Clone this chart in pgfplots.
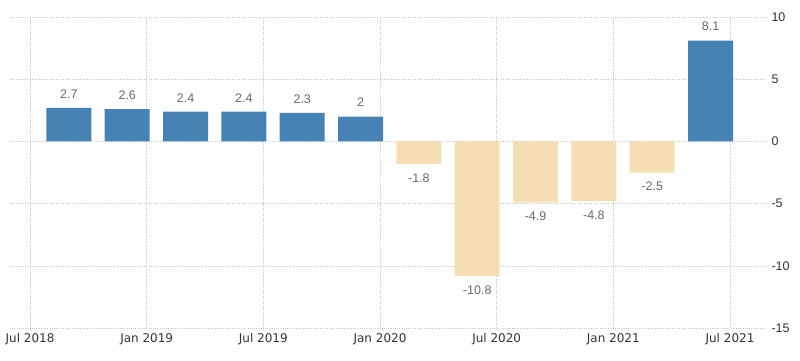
\documentclass[border=0pt]{standalone}
\usepackage{pgfplots}
\pgfplotsset{compat=1.18}
\usepackage{fontspec}
\setmainfont{DejaVu Sans}
\newfontfamily\arialfont{Liberation Sans}
\definecolor{barblue}{HTML}{4682B4}
\definecolor{barneg}{HTML}{F5DEB3}
\definecolor{gridc}{HTML}{C8C8C8}
\definecolor{labc}{HTML}{333333}
\definecolor{valc}{HTML}{686870}
\begin{document}
\begin{tikzpicture}
\begin{axis}[
  at={(10pt,32pt)}, anchor=south west,
  scale only axis, width=755pt, height=311pt,
  xmin=-1.03, xmax=37.8, ymin=-15, ymax=10,
  axis line style={draw=none},
  major tick length=0pt,
  xtick={0,6,12,18,24,30,36},
  xticklabels={Jul 2018, Jan 2019, Jul 2019, Jan 2020, Jul 2020, Jan 2021, Jul 2021},
  ytick={-15,-10,-5,0,5,10},
  yticklabels={-15,-10,-5,0,5,10},
  yticklabel pos=right,
  grid=major,
  major grid style={gridc, line width=0.6pt, dash pattern=on 1pt off 1.2pt},
  xticklabel style={font=\fontsize{12}{14}\selectfont, text=labc, yshift=-2pt},
  yticklabel style={font=\arialfont\fontsize{12.5}{14}\selectfont, text=labc, anchor=west, xshift=3pt},
  ybar, bar width=45pt, bar shift=0pt,
  nodes near coords, point meta=explicit symbolic,
  nodes near coords style={font=\arialfont\fontsize{12.5}{14}\selectfont, text=valc},
]
\addplot[fill=barblue, draw=none, nodes near coords style={anchor=south, yshift=6pt}] coordinates {
  (2,2.7)[2.7] (5,2.6)[2.6] (8,2.4)[2.4] (11,2.4)[2.4] (14,2.3)[2.3] (17,2.0)[2] (35,8.1)[8.1]
};
\addplot[fill=barneg, draw=none, nodes near coords style={anchor=north, yshift=-6pt}] coordinates {
  (20,-1.8)[-1.8] (23,-10.8)[-10.8] (26,-4.9)[-4.9] (29,-4.8)[-4.8] (32,-2.5)[-2.5]
};
\end{axis}
\pgfresetboundingbox
\path (0,0) rectangle (800pt,360pt);
\end{tikzpicture}
\end{document}
